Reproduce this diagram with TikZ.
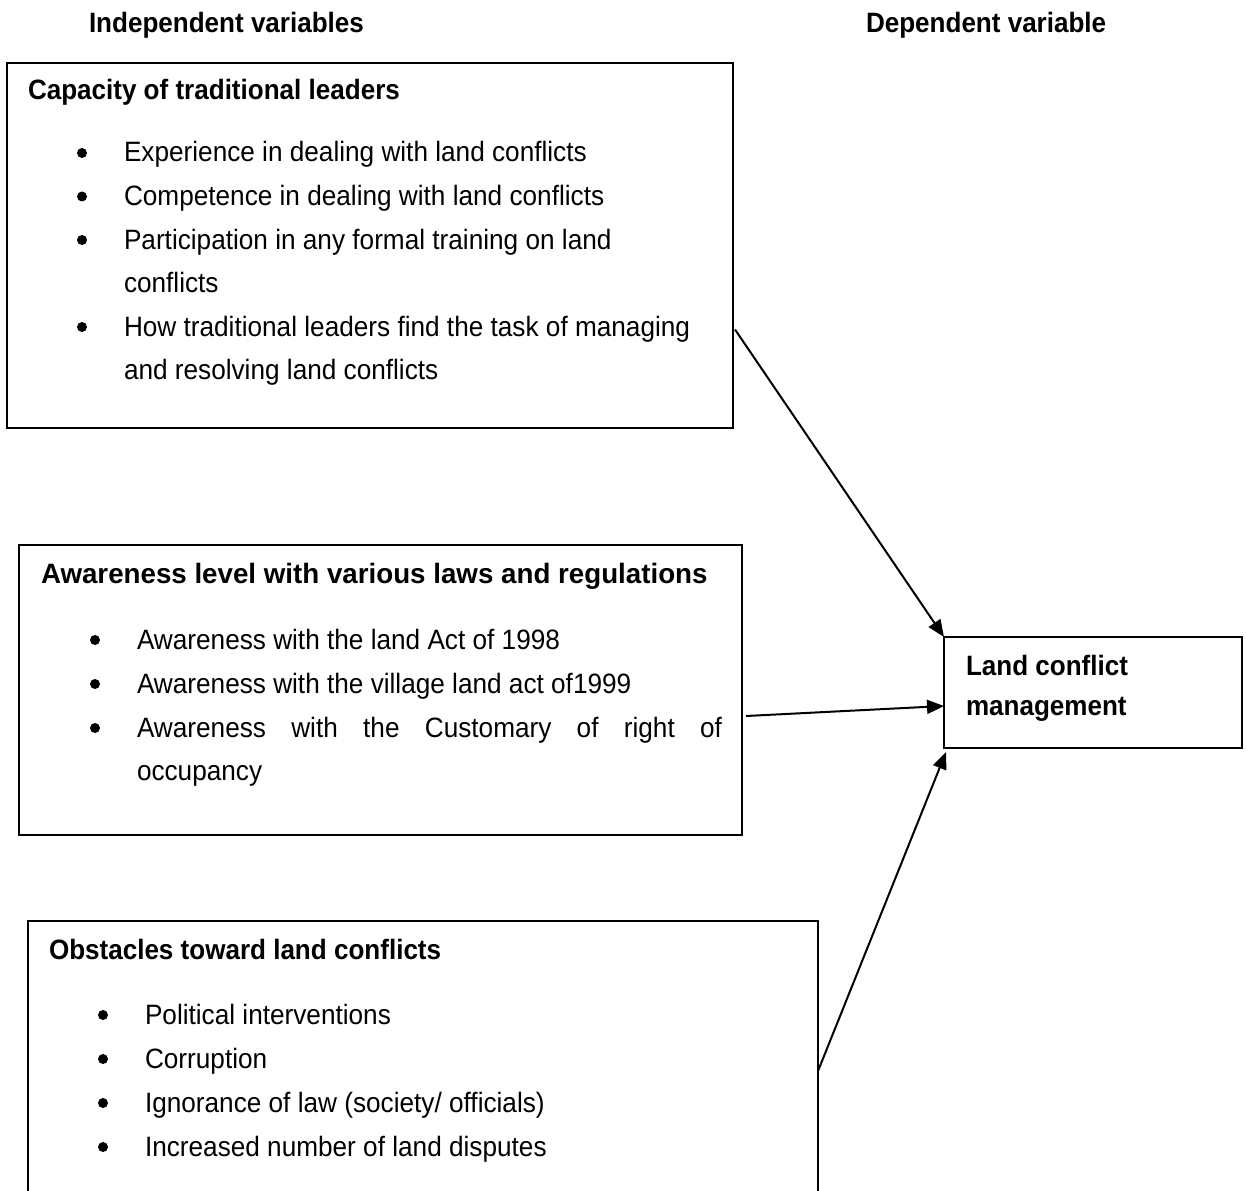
\documentclass[tikz,border=0pt]{standalone}
\usepackage{fontspec}
\setmainfont[FakeStretch=0.935]{Liberation Sans}
\newfontfamily\hdfont[FakeStretch=0.93]{Liberation Sans Bold}
\newfontfamily\hdwidefont[FakeStretch=0.99]{Liberation Sans Bold}
\usetikzlibrary{arrows.meta}

\begin{document}
\begin{tikzpicture}[x=1pt,y=-1pt]
	\tikzstyle{every node}+=[inner sep=0pt,outer sep=0pt]
	\tikzstyle{box}=[draw=black,line width=1.6pt,rectangle,anchor=north west]
	\tikzstyle{hd}=[anchor=base west,font=\fontsize{28}{40}\hdfont]
	\tikzstyle{txt}=[anchor=base west,font=\fontsize{28}{40}\selectfont]
	\tikzstyle{dot}=[circle,fill=black,minimum size=10pt]
	\tikzstyle{link}=[line width=2pt,-{Triangle[length=17pt,width=14pt]}]
	\clip (0,0) rectangle (1246,1190);
	% headings
	\node [hd] (indep) at (89,33) {Independent variables};
	\node [hd] (dep) at (866,33) {Dependent variable};
	% capacity
	\node [box,minimum width=726pt,minimum height=365pt] (cap) at (7,63) {};
	\node [hd] (cap-t) at (28,100) {Capacity of traditional leaders};
	\node [dot] (cap-d1) at (82,153) {};
	\node [txt] (cap-1) at (124,162) {Experience in dealing with land conflicts};
	\node [dot] (cap-d2) at (82,196.5) {};
	\node [txt] (cap-2) at (124,205.5) {Competence in dealing with land conflicts};
	\node [dot] (cap-d3) at (82,240) {};
	\node [txt] (cap-3) at (124,249) {Participation in any formal training on land};
	\node [txt] (cap-3b) at (124,292) {conflicts};
	\node [dot] (cap-d4) at (82,327) {};
	\node [txt] (cap-4) at (124,336) {How traditional leaders find the task of managing};
	\node [txt] (cap-4b) at (124,379) {and resolving land conflicts};
	% awareness
	\node [box,minimum width=723pt,minimum height=290pt] (aw) at (19,545) {};
	\node [hd,font=\fontsize{28}{40}\hdwidefont] (aw-t) at (41,583) {Awareness level with various laws and regulations};
	\node [dot] (aw-d1) at (95,640) {};
	\node [txt] (aw-1) at (137,649) {Awareness with the land Act of 1998};
	\node [dot] (aw-d2) at (95,684) {};
	\node [txt] (aw-2) at (137,693) {Awareness with the village land act of1999};
	\node [dot] (aw-d3) at (95,728) {};
	\node [txt] (aw-3) at (137,737) {\makebox[585pt][s]{Awareness with the Customary of right of}};
	\node [txt] (aw-3b) at (137,780) {occupancy};
	% dependent
	\node [box,minimum width=298pt,minimum height=111pt] (mg) at (944,637) {};
	\node [hd] (mg-1) at (966,675) {Land conflict};
	\node [hd] (mg-2) at (966,715) {management};
	% obstacles
	\node [box,minimum width=790pt,minimum height=300pt] (ob) at (28,921) {};
	\node [hd] (ob-t) at (49,959) {Obstacles toward land conflicts};
	\node [dot] (ob-d1) at (103,1015) {};
	\node [txt] (ob-1) at (145,1024) {Political interventions};
	\node [dot] (ob-d2) at (103,1059) {};
	\node [txt] (ob-2) at (145,1068) {Corruption};
	\node [dot] (ob-d3) at (103,1103) {};
	\node [txt] (ob-3) at (145,1112) {Ignorance of law (society/ officials)};
	\node [dot] (ob-d4) at (103,1147) {};
	\node [txt] (ob-4) at (145,1156) {Increased number of land disputes};
	% arrows
	\draw [link] ([xshift=2pt,yshift=-84pt]cap.east) -- (mg.north west);
	\draw [link] ([xshift=4pt,yshift=-26pt]aw.east) -- ([yshift=-13.5pt]mg.west);
	\draw [link] (ob.east) -- ([xshift=2pt,yshift=-4pt]mg.south west);
\end{tikzpicture}
\end{document}
